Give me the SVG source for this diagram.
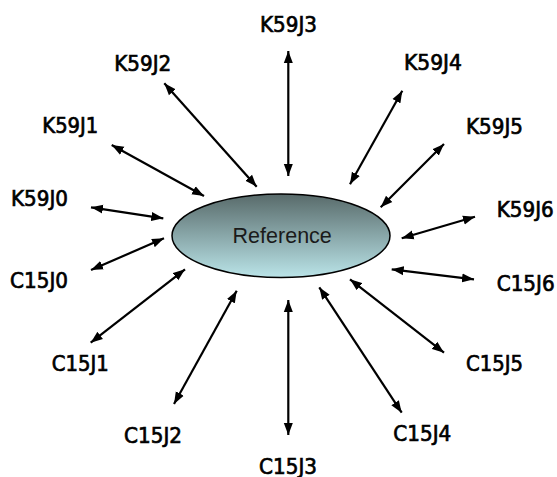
<svg xmlns="http://www.w3.org/2000/svg" width="557" height="477" viewBox="0 0 557 477">
<style>
.lbl{font-family:"DejaVu Sans","Liberation Sans",sans-serif;font-size:21px;fill:#000;stroke:#000;stroke-width:0.7px;}
.cn line{stroke:#000;stroke-width:2.2;marker-start:url(#ah);marker-end:url(#ah);}
</style>
<defs>
<marker id="ah" markerUnits="userSpaceOnUse" markerWidth="13" markerHeight="10" refX="12" refY="5" orient="auto-start-reverse" viewBox="0 0 13 10">
<path d="M0,0.5 L12,5 L0,9.5 z" fill="#000"/>
</marker>
<linearGradient id="g" x1="0" y1="0" x2="0" y2="1">
<stop offset="0" stop-color="#586a6a"/>
<stop offset="1" stop-color="#bae4e8"/>
</linearGradient>
</defs>
<rect width="557" height="477" fill="#fff"/>
<g id="connectors" class="cn">
<line x1="288.3" y1="51" x2="288.3" y2="176"/>
<line x1="164.3" y1="83.3" x2="256.7" y2="186.7"/>
<line x1="111.7" y1="145" x2="204" y2="196"/>
<line x1="91" y1="207.3" x2="163.3" y2="218.3"/>
<line x1="91" y1="270" x2="164" y2="238.3"/>
<line x1="90.7" y1="342.7" x2="185" y2="269.3"/>
<line x1="174" y1="404" x2="236.7" y2="290.7"/>
<line x1="288.3" y1="435" x2="288.3" y2="300"/>
<line x1="402.3" y1="90.7" x2="350" y2="184.3"/>
<line x1="444" y1="144" x2="380.7" y2="207.3"/>
<line x1="475" y1="216.7" x2="401.7" y2="238.3"/>
<line x1="474" y1="279.3" x2="391.7" y2="269.3"/>
<line x1="444" y1="352.7" x2="350" y2="279.3"/>
<line x1="401.7" y1="412.7" x2="319.3" y2="287.3"/>
</g>
<g id="reference">
<ellipse cx="281" cy="235.7" rx="109" ry="41.7" fill="url(#g)" stroke="#000" stroke-width="1.5"/>
<text x="282.2" y="242.7" text-anchor="middle" font-family="Liberation Sans, Arial, sans-serif" font-size="21.5" fill="#1a1a1a">Reference</text>
</g>
<g id="K59J3"><text class="lbl" x="260" y="31.7" textLength="57" lengthAdjust="spacingAndGlyphs">K59J3</text></g>
<g id="K59J2"><text class="lbl" x="114.3" y="70.7" textLength="57" lengthAdjust="spacingAndGlyphs">K59J2</text></g>
<g id="K59J1"><text class="lbl" x="42.3" y="132.7" textLength="56" lengthAdjust="spacingAndGlyphs">K59J1</text></g>
<g id="K59J0"><text class="lbl" x="11" y="205.7" textLength="57" lengthAdjust="spacingAndGlyphs">K59J0</text></g>
<g id="K59J4"><text class="lbl" x="404" y="70" textLength="58" lengthAdjust="spacingAndGlyphs">K59J4</text></g>
<g id="K59J5"><text class="lbl" x="466" y="134.3" textLength="57" lengthAdjust="spacingAndGlyphs">K59J5</text></g>
<g id="K59J6"><text class="lbl" x="496.7" y="216.7" textLength="57" lengthAdjust="spacingAndGlyphs">K59J6</text></g>
<g id="C15J0"><text class="lbl" x="10" y="288" textLength="58" lengthAdjust="spacingAndGlyphs">C15J0</text></g>
<g id="C15J1"><text class="lbl" x="51.7" y="371.3" textLength="57" lengthAdjust="spacingAndGlyphs">C15J1</text></g>
<g id="C15J2"><text class="lbl" x="124" y="443" textLength="58" lengthAdjust="spacingAndGlyphs">C15J2</text></g>
<g id="C15J3"><text class="lbl" x="259" y="473.5" textLength="58" lengthAdjust="spacingAndGlyphs">C15J3</text></g>
<g id="C15J4"><text class="lbl" x="393.3" y="441.3" textLength="58" lengthAdjust="spacingAndGlyphs">C15J4</text></g>
<g id="C15J5"><text class="lbl" x="466" y="371.3" textLength="57" lengthAdjust="spacingAndGlyphs">C15J5</text></g>
<g id="C15J6"><text class="lbl" x="496.7" y="290.7" textLength="58" lengthAdjust="spacingAndGlyphs">C15J6</text></g>
</svg>
